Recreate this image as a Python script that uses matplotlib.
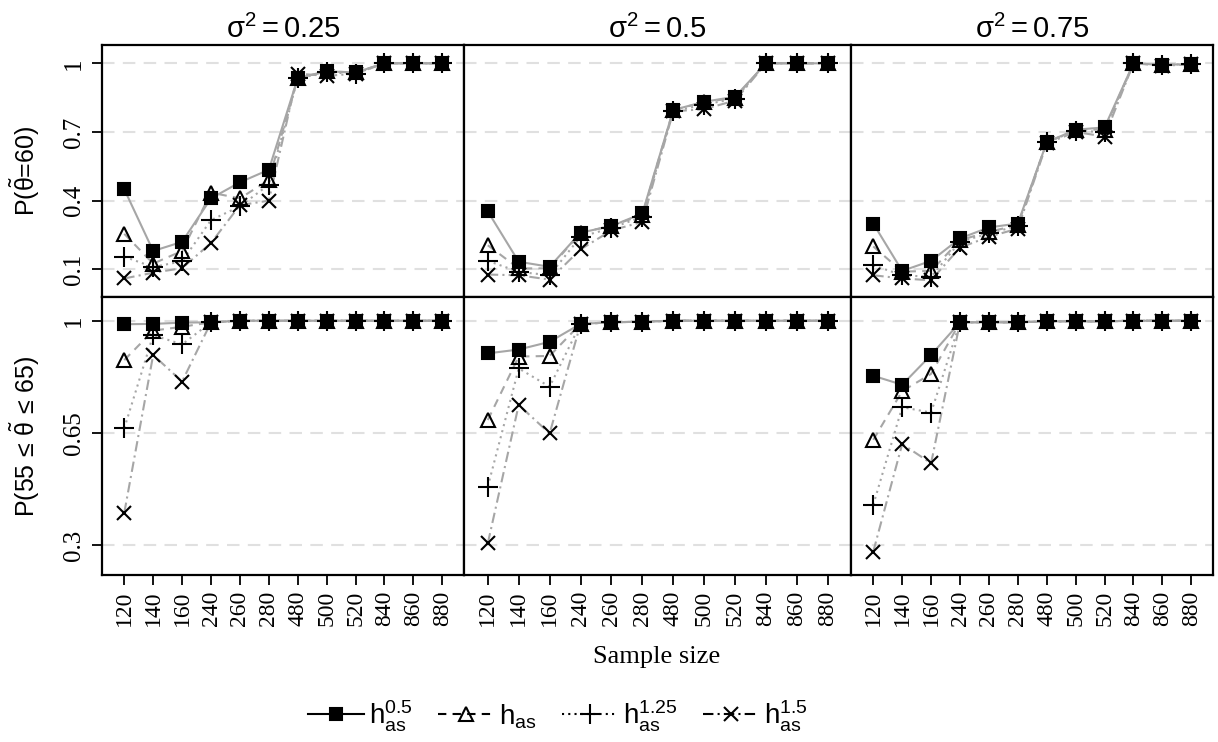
import numpy as np
import matplotlib
matplotlib.use("Agg")
import matplotlib.pyplot as plt
from matplotlib.lines import Line2D

plt.rcParams['font.family'] = ['Liberation Serif', 'DejaVu Serif']
plt.rcParams['mathtext.fontset'] = 'custom'
plt.rcParams['mathtext.rm'] = 'Liberation Sans'
plt.rcParams['mathtext.it'] = 'Liberation Sans:italic'
plt.rcParams['mathtext.bf'] = 'Liberation Sans:bold'

# sample sizes (categorical x)
sizes = ['120', '140', '160', '240', '260', '280', '480', '500', '520', '840', '860', '880']
sigmas = ['0.25', '0.5', '0.75']

# P(theta~ = 60): one list per sigma, per bandwidth
p60_h05 = [[0.45, 0.18, 0.22, 0.41, 0.48, 0.535, 0.935, 0.965, 0.96, 1.0, 1.0, 1.0],
           [0.353, 0.133, 0.111, 0.26, 0.289, 0.344, 0.796, 0.832, 0.854, 1.0, 1.0, 1.0],
           [0.30, 0.093, 0.137, 0.235, 0.283, 0.30, 0.655, 0.71, 0.72, 1.0, 0.993, 0.997]]
p60_has = [[0.255, 0.125, 0.18, 0.435, 0.41, 0.49, 0.935, 0.965, 0.96, 1.0, 1.0, 1.0],
           [0.205, 0.104, 0.104, 0.26, 0.29, 0.337, 0.796, 0.83, 0.85, 1.0, 1.0, 1.0],
           [0.20, 0.09, 0.093, 0.227, 0.264, 0.293, 0.655, 0.71, 0.71, 1.0, 0.993, 0.997]]
p60_h125 = [[0.155, 0.11, 0.135, 0.315, 0.375, 0.47, 0.935, 0.96, 0.955, 1.0, 1.0, 1.0],
            [0.137, 0.089, 0.074, 0.242, 0.28, 0.33, 0.79, 0.82, 0.845, 1.0, 1.0, 1.0],
            [0.118, 0.074, 0.067, 0.22, 0.257, 0.289, 0.655, 0.705, 0.70, 1.0, 0.993, 0.997]]
p60_h15 = [[0.06, 0.085, 0.105, 0.215, 0.38, 0.40, 0.955, 0.945, 0.955, 1.0, 1.0, 1.0],
           [0.077, 0.074, 0.055, 0.187, 0.27, 0.307, 0.79, 0.80, 0.837, 1.0, 1.0, 1.0],
           [0.074, 0.06, 0.052, 0.195, 0.242, 0.278, 0.65, 0.70, 0.68, 1.0, 0.99, 0.995]]

# P(55 <= theta~ <= 65)
pint_h05 = [[0.989, 0.99, 0.994, 0.995, 1.0, 1.0, 1.0, 1.0, 1.0, 1.0, 1.0, 1.0],
            [0.898, 0.91, 0.934, 0.99, 0.995, 0.997, 1.0, 1.0, 1.0, 1.0, 1.0, 1.0],
            [0.828, 0.80, 0.893, 0.995, 0.995, 0.995, 0.998, 0.998, 0.998, 1.0, 1.0, 1.0]]
pint_has = [[0.877, 0.969, 0.981, 0.995, 1.0, 1.0, 1.0, 1.0, 1.0, 1.0, 1.0, 1.0],
            [0.69, 0.888, 0.89, 0.99, 0.995, 0.997, 1.0, 1.0, 1.0, 1.0, 1.0, 1.0],
            [0.628, 0.78, 0.834, 0.995, 0.995, 0.995, 0.998, 0.998, 0.998, 1.0, 1.0, 1.0]]
pint_h125 = [[0.664, 0.955, 0.926, 0.995, 1.0, 1.0, 1.0, 1.0, 1.0, 1.0, 1.0, 1.0],
             [0.482, 0.851, 0.794, 0.99, 0.995, 0.997, 1.0, 1.0, 1.0, 1.0, 1.0, 1.0],
             [0.425, 0.73, 0.713, 0.995, 0.995, 0.995, 0.998, 0.998, 0.998, 1.0, 1.0, 1.0]]
pint_h15 = [[0.40, 0.893, 0.81, 0.995, 1.0, 1.0, 1.0, 1.0, 1.0, 1.0, 1.0, 1.0],
            [0.305, 0.737, 0.648, 0.99, 0.995, 0.997, 1.0, 1.0, 1.0, 1.0, 1.0, 1.0],
            [0.279, 0.615, 0.555, 0.995, 0.995, 0.995, 0.998, 0.998, 0.998, 1.0, 1.0, 1.0]]

labels = [r'$\mathrm{h_{as}^{0.5}}$', r'$\mathrm{h_{as}}$',
          r'$\mathrm{h_{as}^{1.25}}$', r'$\mathrm{h_{as}^{1.5}}$']
styles = [dict(ls='-', marker='s', ms=8, mfc='black'),
          dict(ls=(0, (4, 3)), marker='^', ms=10, mfc='none'),
          dict(ls=(0, (1, 2)), marker='+', ms=14),
          dict(ls=(0, (5, 2, 1, 2)), marker='x', ms=10)]

W, H = 1218, 742
fig = plt.figure(figsize=(W / 100, H / 100), dpi=100)

cols = [102, 464, 851, 1213]
rows = [(45, 297), (297, 575)]
ylims = [(-0.021, 1.08), (0.206, 1.074)]
yticks = [([0.1, 0.4, 0.7, 1.0], ['0.1', '0.4', '0.7', '1']),
          ([0.3, 0.65, 1.0], ['0.3', '0.65', '1'])]
data = [[p60_h05, p60_has, p60_h125, p60_h15],
        [pint_h05, pint_has, pint_h125, pint_h15]]
x = np.arange(1, len(sizes) + 1)

for r, (top, bot) in enumerate(rows):
    for c in range(3):
        ax = fig.add_axes([cols[c] / W, 1 - bot / H, (cols[c + 1] - cols[c]) / W, (bot - top) / H])
        for k in range(4):
            st = styles[k]
            ax.plot(x, data[r][k][c], color='#a6a6a6', lw=1.5, ls=st['ls'], zorder=2)
            ax.plot(x, data[r][k][c], ls='none', marker=st['marker'], ms=st['ms'],
                    mfc=st.get('mfc', 'black'), mec='black', mew=1.5, zorder=3)
        for yv in yticks[r][0]:
            ax.axhline(yv, color='#e0e0e0', lw=1.5, ls=(0, (6, 4)), zorder=1)
        ax.set_xlim(0.23, 12.75)
        ax.set_ylim(*ylims[r])
        ax.set_xticks(x)
        ax.tick_params(axis='x', direction='out', length=7, width=1.3, labelsize=17,
                       labelbottom=(r == 1), labelrotation=90, pad=4)
        if c == 0:
            ax.set_yticks(yticks[r][0])
            ax.set_yticklabels(yticks[r][1], rotation=90, va='center')
            ax.tick_params(axis='y', direction='out', length=7, width=1.3, labelsize=18, pad=5)
        else:
            ax.set_yticks([])
        if r == 1:
            ax.set_xticklabels(sizes)
        for sp in ax.spines.values():
            sp.set_linewidth(1.6)
        if r == 0:
            ax.set_title(r'$\mathrm{\sigma^2 = %s}$' % sigmas[c], fontsize=21, pad=5)

fig.text(25 / W, 1 - 171 / H, r'P($\mathrm{\tilde{\theta}}$=60)', rotation=90,
         ha='center', va='center', fontsize=18, family=['Liberation Sans', 'DejaVu Sans'])
fig.text(25 / W, 1 - 436 / H, r'P(55$\,\leq\,\mathrm{\tilde{\theta}}\,\leq\,$65)', rotation=90,
         ha='center', va='center', fontsize=18, family=['Liberation Sans', 'DejaVu Sans'])
fig.text(657 / W, 1 - 657 / H, 'Sample size', ha='center', va='center', fontsize=19)

handles = [Line2D([], [], color='black', lw=1.5, ls=st['ls'], marker=st['marker'],
                  ms=st['ms'], mfc=st.get('mfc', 'black'), mec='black', mew=1.5)
           for st in styles]
fig.legend(handles, labels, loc='center', bbox_to_anchor=(558 / W, 1 - 716 / H), ncol=4,
           frameon=False, fontsize=20, handlelength=2.0, columnspacing=0.9, handletextpad=0.2)

fig.savefig('out.png', dpi=100)
